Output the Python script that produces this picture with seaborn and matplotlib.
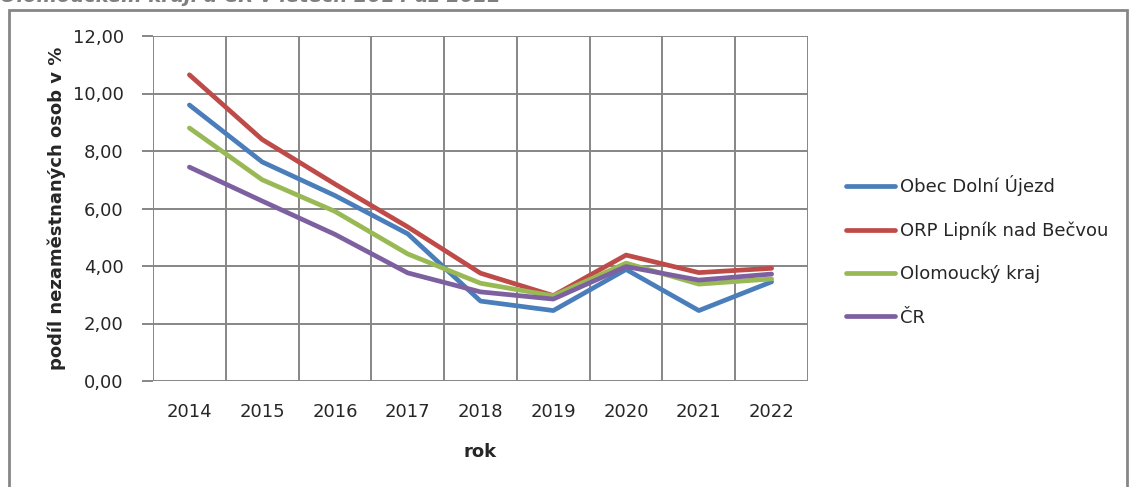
import seaborn as sns
import pandas as pd
import numpy as np
import matplotlib.pyplot as plt
from matplotlib.patches import Rectangle

# data
years = ['2014', '2015', '2016', '2017', '2018', '2019', '2020', '2021', '2022']
obec = [9.60, 7.62, 6.45, 5.12, 2.78, 2.45, 3.88, 2.45, 3.45]
orp = [10.65, 8.40, 6.85, 5.36, 3.75, 2.97, 4.38, 3.77, 3.92]
kraj = [8.80, 7.00, 5.90, 4.42, 3.40, 2.96, 4.10, 3.37, 3.55]
cr = [7.44, 6.26, 5.10, 3.76, 3.10, 2.85, 3.98, 3.51, 3.72]
names = ['Obec Dolní Újezd', 'ORP Lipník nad Bečvou', 'Olomoucký kraj', 'ČR']
colors = ['#4A7EBB', '#BE4B48', '#98B954', '#7D60A0']

df = pd.DataFrame({'rok': years * 4,
                   'hodnota': obec + orp + kraj + cr,
                   'rada': [n for n in names for _ in years]})

sns.set_style('white')
plt.rcParams['font.family'] = ['DejaVu Sans']

fig = plt.figure(figsize=(11.32, 4.87), dpi=100)
ax = fig.add_axes([153 / 1132, 1 - 381 / 487, 655 / 1132, 345 / 487])

sns.lineplot(data=df, x='rok', y='hodnota', hue='rada', palette=colors,
             linewidth=3.4, sort=False, ax=ax)

grid_col = '#868686'
ax.set_xlim(-0.5, 8.5)
ax.set_ylim(0, 12)
ax.set_yticks(np.arange(0, 12.1, 2))
ax.set_yticklabels([('%.2f' % v).replace('.', ',') for v in np.arange(0, 12.1, 2)])
ax.set_xticks(range(len(years)))
ax.set_xticklabels(years)
ax.set_xticks(np.arange(-0.5, 9, 1), minor=True)
ax.grid(False)
ax.grid(True, which='major', axis='y', color=grid_col, lw=1.4)
ax.grid(True, which='minor', axis='x', color=grid_col, lw=1.4)
ax.set_axisbelow(True)
for s in ax.spines.values():
    s.set_visible(False)
ax.tick_params(axis='x', which='major', length=0, pad=16, labelsize=13)
ax.tick_params(axis='x', which='minor', length=7, width=1.4, color=grid_col, direction='out')
ax.tick_params(axis='y', which='major', length=8, width=1.4, color=grid_col, pad=13, labelsize=13, left=True)

ax.set_xlabel('rok', fontsize=13, fontweight='bold', labelpad=16)
ax.set_ylabel('podíl nezaměstnaných osob v %', fontsize=13, fontweight='bold', labelpad=5)

ax.legend(loc='center left', bbox_to_anchor=(830 / 1132, 1 - 251 / 487),
          bbox_transform=fig.transFigure, frameon=False, fontsize=13,
          handlelength=2.7, handletextpad=0.25, labelspacing=1.4)

# outer chart frame and the clipped title above it
fig.patches.append(Rectangle((9 / 1132, -0.05), 1118 / 1132, 1.05 - 10 / 487,
                             transform=fig.transFigure, fill=False,
                             edgecolor=grid_col, lw=2))
fig.text(0, 1 - 2.5 / 487, 'Olomouckém kraji a ČR v letech 2014 až 2022',
         fontsize=14, fontweight='bold', fontstyle='italic', color='#7F7F7F',
         va='baseline', ha='left')

fig.savefig('out.png', dpi=100)
